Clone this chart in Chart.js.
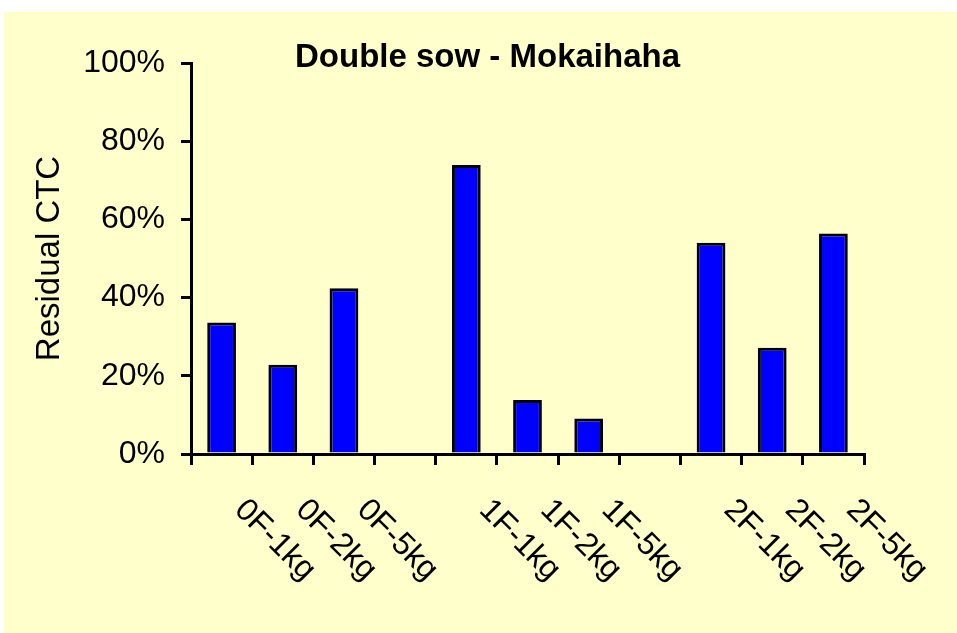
<!DOCTYPE html>
<html>
<head>
<meta charset="utf-8">
<script src="https://cdn.jsdelivr.net/npm/chart.js@4/dist/chart.umd.min.js"></script>
<style>
  html, body { margin: 0; padding: 0; background: #ffffff; }
  #wrap { position: relative; width: 957px; height: 633px; }
</style>
</head>
<body>
<div id="wrap"><canvas id="sowChart" width="957" height="633"></canvas></div>
<script>
// ---- data ----
const categories = ["0F-1kg", "0F-2kg", "0F-5kg", "", "1F-1kg", "1F-2kg", "1F-5kg", "", "2F-1kg", "2F-2kg", "2F-5kg"];
const residualCTC = [33.6, 22.8, 42.4, null, 73.9, 13.8, 9.1, null, 54.0, 27.2, 56.4];
const yTicks = [0, 20, 40, 60, 80, 100];
const chartTitle = "Double sow - Mokaihaha";
const yAxisTitle = "Residual CTC";

const FONT = "'Liberation Sans', Arial, sans-serif";

// pale yellow panel, with the thin white margin at top/left
const panelBackground = {
    id: "panelBackground",
    beforeDraw(chart) {
        const ctx = chart.ctx;
        ctx.save();
        ctx.fillStyle = "#ffffff";
        ctx.fillRect(0, 0, chart.width, chart.height);
        ctx.fillStyle = "#ffffcc";
        ctx.fillRect(4, 12, chart.width - 4, chart.height - 12);
        ctx.restore();
    }
};

// title sits inside the plot top, and x labels run down-right at 45 degrees
const extraText = {
    id: "extraText",
    afterDraw(chart) {
        const ctx = chart.ctx;
        const xScale = chart.scales.x;

        ctx.save();
        ctx.fillStyle = "#000000";
        ctx.font = "bold 33px " + FONT;
        ctx.textAlign = "center";
        ctx.textBaseline = "alphabetic";
        ctx.fillText(chartTitle, chart.width / 2 + 9, 67);

        ctx.font = "32px " + FONT;
        ctx.textAlign = "left";
        ctx.textBaseline = "middle";
        categories.forEach((label, i) => {
            if (!label) return;
            const x = xScale.getPixelForValue(i) + 18;
            const y = xScale.top + 51;
            ctx.save();
            ctx.translate(x, y);
            ctx.rotate(Math.PI / 4);
            ctx.fillText(label, 0, 0);
            ctx.restore();
        });
        ctx.restore();
    }
};

new Chart(document.getElementById("sowChart").getContext("2d"), {
    type: "bar",
    data: {
        labels: categories,
        datasets: [{
            label: yAxisTitle,
            data: residualCTC,
            backgroundColor: "#0000ff",
            borderColor: "#000000",
            borderWidth: 3,
            categoryPercentage: 1,
            barPercentage: 0.47
        }]
    },
    options: {
        responsive: false,
        animation: false,
        events: [],
        layout: {
            padding: { left: 0, top: 63, right: 93, bottom: 0 }
        },
        plugins: {
            legend: { display: false },
            tooltip: { enabled: false },
            title: { display: false }
        },
        scales: {
            x: {
                grid: {
                    offset: true,
                    drawOnChartArea: false,
                    drawTicks: true,
                    tickLength: 11,
                    color: "#000000",
                    lineWidth: 3
                },
                border: { display: true, color: "#000000", width: 3 },
                ticks: { display: false },
                afterFit(scale) { scale.height = 633 - 454; }
            },
            y: {
                min: 0,
                max: 100,
                afterBuildTicks(scale) {
                    scale.ticks = yTicks.map(v => ({ value: v }));
                },
                grid: {
                    drawOnChartArea: false,
                    drawTicks: true,
                    tickLength: 10,
                    color: "#000000",
                    lineWidth: 3
                },
                border: { display: true, color: "#000000", width: 3 },
                ticks: {
                    color: "#000000",
                    font: { family: FONT, size: 32 },
                    padding: 16,
                    callback: v => v + "%"
                },
                title: {
                    display: true,
                    text: yAxisTitle,
                    color: "#000000",
                    font: { family: FONT, size: 33 },
                    padding: { top: 30, bottom: 0 }
                },
                afterFit(scale) { scale.width = 191; }
            }
        }
    },
    plugins: [panelBackground, extraText]
});
</script>
</body>
</html>
